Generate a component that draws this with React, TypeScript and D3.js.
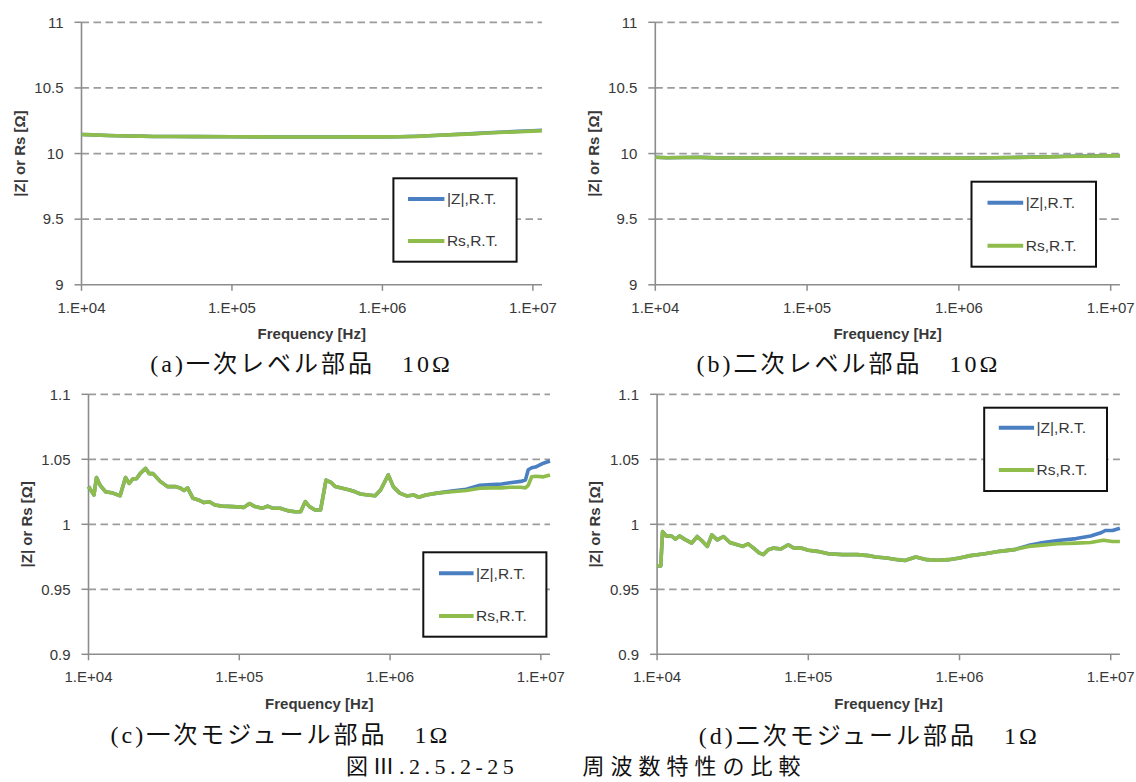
import React from 'react';
import * as d3 from 'd3';

// ---------- data ----------
const fA = [1e4, 1.2e4, 1.5e4, 2e4, 2.5e4, 3e4, 4e4, 6e4, 1e5, 1.5e5, 2e5, 3e5, 5e5, 7e5, 1e6, 1.3e6, 1.7e6, 2.2e6, 3e6, 4e6, 5e6, 6.5e6, 8e6, 1e7, 1.15e7];
const rsA = [10.145, 10.142, 10.138, 10.134, 10.133, 10.13, 10.13, 10.129, 10.128, 10.127, 10.126, 10.126, 10.126, 10.127, 10.127, 10.128, 10.131, 10.137, 10.144, 10.15, 10.156, 10.162, 10.166, 10.171, 10.174];
const zA = [10.145, 10.142, 10.138, 10.134, 10.133, 10.13, 10.13, 10.129, 10.128, 10.127, 10.126, 10.126, 10.126, 10.127, 10.127, 10.128, 10.132, 10.138, 10.145, 10.152, 10.158, 10.164, 10.169, 10.174, 10.178];

const fB = [1e4, 1.2e4, 1.5e4, 2e4, 2.5e4, 3e4, 4e4, 6e4, 1e5, 1.5e5, 2e5, 3e5, 5e5, 7e5, 1e6, 1.3e6, 1.7e6, 2.2e6, 3e6, 4e6, 5e6, 6.5e6, 8e6, 1e7, 1.15e7];
const rsB = [9.972, 9.968, 9.97, 9.971, 9.967, 9.966, 9.966, 9.965, 9.965, 9.965, 9.965, 9.965, 9.965, 9.965, 9.965, 9.966, 9.968, 9.97, 9.972, 9.975, 9.978, 9.98, 9.981, 9.982, 9.983];
const zB = [9.972, 9.968, 9.97, 9.971, 9.967, 9.966, 9.966, 9.965, 9.965, 9.965, 9.965, 9.965, 9.965, 9.965, 9.965, 9.966, 9.968, 9.97, 9.973, 9.976, 9.979, 9.981, 9.982, 9.983, 9.984];

const fC = [1.0e4, 1.087e4, 1.13e4, 1.195e4, 1.3e4, 1.45e4, 1.62e4, 1.76e4, 1.86e4, 1.97e4, 2.08e4, 2.2e4, 2.39e4, 2.53e4, 2.68e4, 2.99e4, 3.34e4, 3.74e4, 4.06e4, 4.3e4, 4.54e4, 4.93e4, 5.36e4, 5.83e4, 6.34e4, 6.89e4, 7.7e4, 9.1e4, 1.074e5, 1.168e5, 1.27e5, 1.42e5, 1.54e5, 1.68e5, 1.87e5, 2.09e5, 2.34e5, 2.55e5, 2.74e5, 2.92e5, 3.18e5, 3.46e5, 3.76e5, 4.08e5, 4.32e5, 4.83e5, 5.39e5, 5.86e5, 6.37e5, 7.12e5, 7.96e5, 8.65e5, 9.73e5, 1.05e6, 1.16e6, 1.29e6, 1.43e6, 1.55e6, 1.73e6, 2.05e6, 2.56e6, 3.2e6, 3.95e6, 4.72e6, 5.5e6, 6.24e6, 7.36e6, 7.9e6, 8.25e6, 8.7e6, 9.2e6, 1.04e7, 1.15e7];
const rsC = [1.029, 1.0226, 1.036, 1.03, 1.025, 1.024, 1.022, 1.036, 1.0315, 1.035, 1.035, 1.039, 1.043, 1.039, 1.039, 1.033, 1.029, 1.029, 1.028, 1.026, 1.028, 1.02, 1.0187, 1.0167, 1.0174, 1.0149, 1.014, 1.0136, 1.013, 1.016, 1.0136, 1.0123, 1.014, 1.0123, 1.0123, 1.0105, 1.0097, 1.0097, 1.0174, 1.0136, 1.011, 1.011, 1.034, 1.032, 1.029, 1.0277, 1.0264, 1.025, 1.0233, 1.0226, 1.022, 1.0264, 1.038, 1.029, 1.024, 1.0218, 1.0226, 1.0208, 1.0226, 1.024, 1.025, 1.026, 1.0277, 1.028, 1.028, 1.0285, 1.0285, 1.028, 1.03, 1.0366, 1.037, 1.0365, 1.038];
const zC = [1.029, 1.0226, 1.036, 1.03, 1.025, 1.024, 1.022, 1.036, 1.0315, 1.035, 1.035, 1.039, 1.043, 1.039, 1.039, 1.033, 1.029, 1.029, 1.028, 1.026, 1.028, 1.02, 1.0187, 1.0167, 1.0174, 1.0149, 1.014, 1.0136, 1.013, 1.016, 1.0136, 1.0123, 1.014, 1.0123, 1.0123, 1.0105, 1.0097, 1.0097, 1.0174, 1.0136, 1.011, 1.011, 1.034, 1.032, 1.029, 1.0277, 1.0264, 1.025, 1.0233, 1.0226, 1.022, 1.0264, 1.038, 1.029, 1.024, 1.0218, 1.0226, 1.0208, 1.0226, 1.024, 1.0255, 1.027, 1.03, 1.0305, 1.031, 1.032, 1.033, 1.034, 1.042, 1.0435, 1.044, 1.047, 1.0487];

const fD = [1.0e4, 1.057e4, 1.087e4, 1.149e4, 1.249e4, 1.32e4, 1.41e4, 1.516e4, 1.694e4, 1.84e4, 2.0e4, 2.15e4, 2.3e4, 2.5e4, 2.75e4, 3.03e4, 3.39e4, 3.68e4, 4.0e4, 4.35e4, 4.73e4, 5.05e4, 5.43e4, 5.9e4, 6.59e4, 7.37e4, 8.01e4, 8.95e4, 1.0e5, 1.148e5, 1.357e5, 1.69e5, 2.11e5, 2.5e5, 2.79e5, 3.3e5, 3.89e5, 4.35e5, 5.14e5, 6.07e5, 7.17e5, 8.47e5, 1.0e6, 1.18e6, 1.475e6, 1.84e6, 2.3e6, 2.87e6, 3.39e6, 4.47e6, 5.9e6, 7.37e6, 8.71e6, 9.2e6, 1.028e7, 1.15e7];
const rsD = [0.968, 0.968, 0.9944, 0.991, 0.991, 0.9886, 0.991, 0.9886, 0.9855, 0.9906, 0.9868, 0.983, 0.9919, 0.988, 0.9906, 0.986, 0.9843, 0.983, 0.985, 0.9817, 0.978, 0.9767, 0.9805, 0.9817, 0.981, 0.9843, 0.9817, 0.9817, 0.98, 0.9792, 0.9774, 0.9767, 0.9767, 0.9759, 0.9749, 0.9741, 0.9728, 0.9721, 0.9749, 0.9728, 0.9723, 0.9728, 0.9741, 0.9759, 0.9774, 0.9792, 0.9805, 0.983, 0.9838, 0.985, 0.9855, 0.986, 0.9876, 0.9876, 0.9868, 0.9868];
const zD = [0.968, 0.968, 0.9944, 0.991, 0.991, 0.9886, 0.991, 0.9886, 0.9855, 0.9906, 0.9868, 0.983, 0.9919, 0.988, 0.9906, 0.986, 0.9843, 0.983, 0.985, 0.9817, 0.978, 0.9767, 0.9805, 0.9817, 0.981, 0.9843, 0.9817, 0.9817, 0.98, 0.9792, 0.9774, 0.9767, 0.9767, 0.9759, 0.9749, 0.9741, 0.9728, 0.9721, 0.9749, 0.9728, 0.9723, 0.9728, 0.9741, 0.9759, 0.9774, 0.9792, 0.9805, 0.9838, 0.9855, 0.9876, 0.989, 0.991, 0.9937, 0.9952, 0.9952, 0.997];

const yTicks10 = [9, 9.5, 10, 10.5, 11];
const yTicks1 = [0.9, 0.95, 1, 1.05, 1.1];
const xTicks = [1e4, 1e5, 1e6, 1e7];
const xTickLabels = ['1.E+04', '1.E+05', '1.E+06', '1.E+07'];
const xDomain = [1e4, 1.15e7];
const seriesNames = ['|Z|,R.T.', 'Rs,R.T.'];
const xTitle = 'Frequency [Hz]';
const yTitle = '|Z| or Rs [Ω]';
const captions = ['(a)一次レベル部品　10Ω', '(b)二次レベル部品　10Ω', '(c)一次モジュール部品　1Ω', '(d)二次モジュール部品　1Ω'];
const figNumber = '図Ⅲ.2.5.2-25';
const figTitle = '周波数特性の比較';

// ---------- styles ----------
const BLUE = '#4a7fc2';
const GREEN = '#8fbd4c';
const AXIS = '#8c8c8c';
const GRID = '#9c9c9c';
const TXT = '#383838';
const SANS = '"Liberation Sans", Arial, sans-serif';
const CAPF = '"Liberation Serif", "Noto Sans CJK JP", serif';

const panels = [
  { left: 81.5, right: 542, top: 22.3, bottom: 284.8, ticks: yTicks10, f: fA, z: zA, rs: rsA,
    lg: { x0: 393.4, x1: 516.6, y0: 178.3, y1: 261.7, lx0: 408, lx1: 444.4, ly: [199, 241] },
    cap: captions[0], capX: 301.5, capY: 363 },
  { left: 655.3, right: 1119.9, top: 22.3, bottom: 284.8, ticks: yTicks10, f: fB, z: zB, rs: rsB,
    lg: { x0: 971.5, x1: 1096, y0: 181.7, y1: 266.7, lx0: 987.5, lx1: 1023.2, ly: [202.7, 245.7] },
    cap: captions[1], capX: 848.4, capY: 363 },
  { left: 88.5, right: 550, top: 394.3, bottom: 654.3, ticks: yTicks1, f: fC, z: zC, rs: rsC,
    lg: { x0: 423.3, x1: 546.4, y0: 552.3, y1: 636.7, lx0: 439, lx1: 473.6, ly: [573.3, 616] },
    cap: captions[2], capX: 280.5, capY: 734 },
  { left: 657.1, right: 1119.9, top: 394.3, bottom: 654.3, ticks: yTicks1, f: fD, z: zD, rs: rsD,
    lg: { x0: 984.2, x1: 1107, y0: 407.7, y1: 491, lx0: 998.8, lx1: 1034.1, ly: [427.7, 470] },
    cap: captions[3], capX: 869.3, capY: 735 },
];

function Panel({ p }: { p: any }) {
  const x = d3.scaleLog().domain(xDomain).range([p.left, p.right]);
  const y = d3.scaleLinear().domain([p.ticks[0], p.ticks[p.ticks.length - 1]]).range([p.bottom, p.top]);
  const line = (vals: number[]) =>
    d3.line<number>().x((_, i) => x(p.f[i])).y((v) => y(v)).curve(d3.curveLinear)(vals) || '';
  const cy = (p.top + p.bottom) / 2;
  const cx = (p.left + p.right) / 2;
  return (
    <g>
      {p.ticks.slice(1).map((t: number) => (
        <line key={'g' + t} x1={p.left} x2={p.right} y1={y(t)} y2={y(t)} stroke={GRID} strokeWidth={1.7} strokeDasharray="7.5,4.5" />
      ))}
      {p.ticks.map((t: number) => (
        <g key={'yt' + t}>
          <line x1={p.left - 7} x2={p.left} y1={y(t)} y2={y(t)} stroke={AXIS} strokeWidth={1.5} />
          <text x={p.left - 18} y={y(t)} dy="0.35em" textAnchor="end" fontFamily={SANS} fontSize={15} fill={TXT}>{String(t)}</text>
        </g>
      ))}
      {xTicks.map((t, i) => (
        <g key={'xt' + t}>
          <line x1={x(t)} x2={x(t)} y1={p.bottom} y2={p.bottom + 6} stroke={AXIS} strokeWidth={1.5} />
          <text x={x(t)} y={p.bottom + 22.5} dy="0.35em" textAnchor="middle" fontFamily={SANS} fontSize={15} fill={TXT}>{xTickLabels[i]}</text>
        </g>
      ))}
      <line x1={p.left} x2={p.left} y1={p.top} y2={p.bottom} stroke={AXIS} strokeWidth={1.6} />
      <line x1={p.left} x2={p.right} y1={p.bottom} y2={p.bottom} stroke={AXIS} strokeWidth={1.6} />
      <text x={cx} y={p.bottom + 49} dy="0.35em" textAnchor="middle" fontFamily={SANS} fontSize={15} fontWeight="bold" fill={TXT}>{xTitle}</text>
      <text transform={`translate(${p.left - 62},${cy}) rotate(-90)`} dy="0.35em" textAnchor="middle" fontFamily={SANS} fontSize={15} fontWeight="bold" fill={TXT}>{yTitle}</text>
      <path d={line(p.z)} fill="none" stroke={BLUE} strokeWidth={3.6} strokeLinejoin="round" />
      <path d={line(p.rs)} fill="none" stroke={GREEN} strokeWidth={3.6} strokeLinejoin="round" />
      <rect x={p.lg.x0} y={p.lg.y0} width={p.lg.x1 - p.lg.x0} height={p.lg.y1 - p.lg.y0} fill="#fff" stroke="#111" strokeWidth={2} />
      {[BLUE, GREEN].map((c, i) => (
        <g key={'lg' + i}>
          <line x1={p.lg.lx0} x2={p.lg.lx1} y1={p.lg.ly[i]} y2={p.lg.ly[i]} stroke={c} strokeWidth={4} />
          <text x={p.lg.lx1 + 2.5} y={p.lg.ly[i]} dy="0.35em" fontFamily={SANS} fontSize={15.5} fill={TXT}>{seriesNames[i]}</text>
        </g>
      ))}
      <text x={p.capX} y={p.capY} dy="0.36em" textAnchor="middle" fontFamily={CAPF} fontSize={24} letterSpacing={3} fill="#111">{p.cap}</text>
    </g>
  );
}

export default function App() {
  return (
    <svg width={1136} height={782} style={{ position: 'absolute', left: 0, top: 0, background: '#fff' }}>
      <rect x={0} y={0} width={1136} height={782} fill="#fff" />
      {panels.map((p, i) => <Panel key={i} p={p} />)}
      <text x={346} y={766} dy="0.36em" fontFamily={CAPF} fontSize={22} letterSpacing={4.5} fill="#111">{figNumber}</text>
      <text x={582.4} y={766} dy="0.36em" fontFamily={CAPF} fontSize={22} letterSpacing={6} fill="#111">{figTitle}</text>
    </svg>
  );
}
